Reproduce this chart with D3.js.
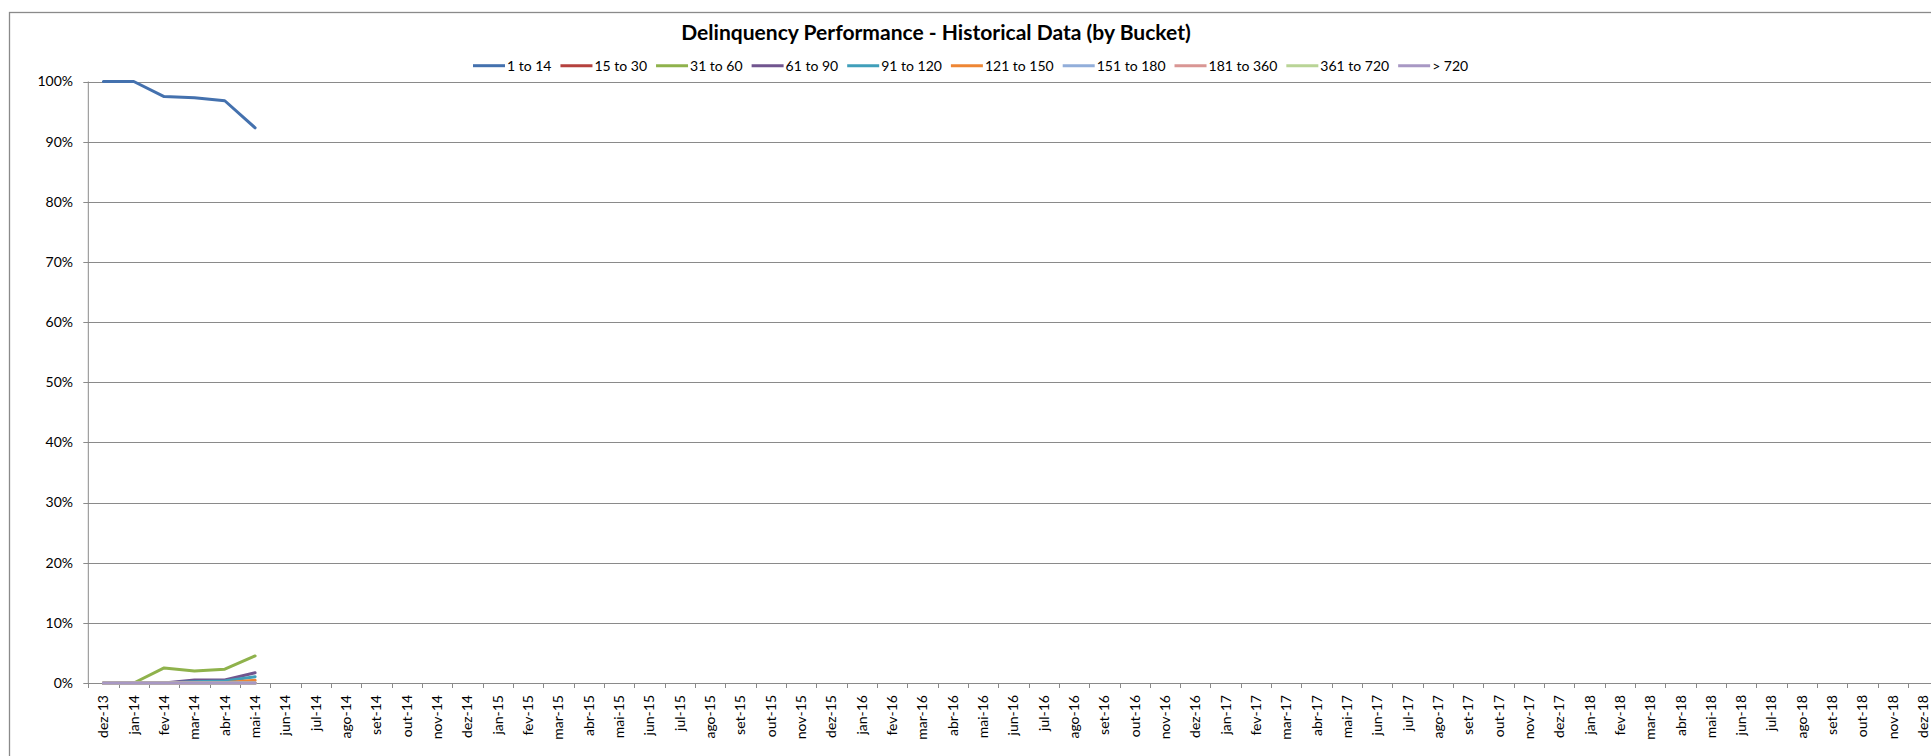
<!DOCTYPE html>
<html>
<head>
<meta charset="utf-8">
<script src="https://cdn.jsdelivr.net/npm/d3@7"></script>
<style>
  body { margin: 0; background: #fff; overflow: hidden; }
  svg { display: block; font-family: Lato, "Open Sans", sans-serif; }
</style>
</head>
<body>
<svg id="chart" width="1931" height="756"></svg>
<script>
// --- DATA ---
const months = [
  "dez-13",
  "jan-14", "fev-14", "mar-14", "abr-14", "mai-14", "jun-14", "jul-14", "ago-14", "set-14", "out-14", "nov-14", "dez-14",
  "jan-15", "fev-15", "mar-15", "abr-15", "mai-15", "jun-15", "jul-15", "ago-15", "set-15", "out-15", "nov-15", "dez-15",
  "jan-16", "fev-16", "mar-16", "abr-16", "mai-16", "jun-16", "jul-16", "ago-16", "set-16", "out-16", "nov-16", "dez-16",
  "jan-17", "fev-17", "mar-17", "abr-17", "mai-17", "jun-17", "jul-17", "ago-17", "set-17", "out-17", "nov-17", "dez-17",
  "jan-18", "fev-18", "mar-18", "abr-18", "mai-18", "jun-18", "jul-18", "ago-18", "set-18", "out-18", "nov-18", "dez-18"
];

const buckets = ["1 to 14", "15 to 30", "31 to 60", "61 to 90", "91 to 120",
                 "121 to 150", "151 to 180", "181 to 360", "361 to 720", "> 720"];
const colors = ["#4471AE", "#B5413E", "#8FB24C", "#71558F", "#409FBA",
                "#EE8634", "#92AEDA", "#D99694", "#B9D496", "#A898C4"];

// percentages, dez-13 .. mai-14 (later months have no data yet)
const b1to14    = [100, 100, 97.5, 97.3, 96.8, 92.3];
const b15to30   = [0, 0, 0, 0, 0, 0];
const b31to60   = [0, 0, 2.5, 2.0, 2.3, 4.5];
const b61to90   = [0, 0, 0, 0.5, 0.5, 1.7];
const b91to120  = [0, 0, 0, 0.2, 0.35, 1.05];
const b121to150 = [0, 0, 0, 0, 0.05, 0.45];
const b151to180 = [0, 0, 0, 0, 0, 0];
const b181to360 = [0, 0, 0, 0, 0, 0];
const b361to720 = [0, 0, 0, 0, 0, 0];
const bOver720  = [0, 0, 0, 0, 0, 0];

const yTicks = [0, 0.1, 0.2, 0.3, 0.4, 0.5, 0.6, 0.7, 0.8, 0.9, 1];

const seriesValues = [b1to14, b15to30, b31to60, b61to90, b91to120,
                      b121to150, b151to180, b181to360, b361to720, bOver720];

// --- CHART SETUP ---
const svg = d3.select("#chart");
const gridColor = "#8a8a8a";

const plot = {left: 88.3, right: 1938.4, top: 81.5, bottom: 683};

// chart frame (runs off the right and bottom edges like the original)
svg.append("rect")
  .attr("x", 9.5).attr("y", 12.5)
  .attr("width", 2100).attr("height", 900)
  .attr("fill", "#fff")
  .attr("stroke", gridColor).attr("stroke-width", 1.3);

const x = d3.scaleBand().domain(months).range([plot.left, plot.right]);
const y = d3.scaleLinear().domain([0, 1]).range([plot.bottom, plot.top]);

// gridlines + y ticks
svg.append("g")
  .selectAll("line")
  .data(yTicks)
  .join("line")
  .attr("x1", plot.left - 5).attr("x2", plot.right)
  .attr("y1", d => Math.round(y(d)) + 0.5).attr("y2", d => Math.round(y(d)) + 0.5)
  .attr("stroke", gridColor).attr("stroke-width", 1);

svg.append("g")
  .selectAll("text")
  .data(yTicks)
  .join("text")
  .attr("x", 73)
  .attr("y", d => y(d))
  .attr("dy", "0.35em")
  .attr("text-anchor", "end")
  .attr("font-size", 14)
  .attr("fill", "#000")
  .text(d3.format(".0%"));

// y axis line
svg.append("line")
  .attr("x1", plot.left).attr("x2", plot.left)
  .attr("y1", plot.top).attr("y2", plot.bottom)
  .attr("stroke", gridColor);

// x axis: ticks sit between categories, labels at category centres
const xTickPos = months.map(m => x(m)).concat([plot.right]);
svg.append("g")
  .selectAll("line")
  .data(xTickPos)
  .join("line")
  .attr("x1", d => Math.round(d) + 0.5).attr("x2", d => Math.round(d) + 0.5)
  .attr("y1", plot.bottom).attr("y2", plot.bottom + 5)
  .attr("stroke", gridColor);

const xAxis = svg.append("g")
  .attr("transform", `translate(0,${plot.bottom})`)
  .call(d3.axisBottom(x).tickSize(0));
xAxis.select(".domain").remove();
xAxis.selectAll("text")
  .attr("transform", "rotate(-90)")
  .attr("x", -12)
  .attr("y", 0)
  .attr("dy", "0.35em")
  .style("text-anchor", "end")
  .attr("font-size", 14)
  .attr("font-family", "Lato, 'Open Sans', sans-serif")
  .attr("fill", "#000");

// --- LINES ---
const line = d3.line()
  .x((d, i) => x(months[i]) + x.bandwidth() / 2)
  .y(d => y(d / 100));

svg.append("g")
  .selectAll("path")
  .data(seriesValues)
  .join("path")
  .attr("d", line)
  .attr("fill", "none")
  .attr("stroke", (d, i) => colors[i])
  .attr("stroke-width", 3)
  .attr("stroke-linejoin", "round")
  .attr("stroke-linecap", "round");

// --- TITLE ---
const title = svg.append("text")
  .attr("x", 936)
  .attr("y", 40)
  .attr("text-anchor", "middle")
  .attr("font-weight", "bold")
  .attr("font-size", 19)
  .attr("fill", "#000")
  .text("Delinquency Performance - Historical Data (by Bucket)");
// fit the title to the width it has in the original
const tw = title.node().getComputedTextLength();
title.attr("font-size", 19 * 510 / tw);

// --- LEGEND ---
const legend = svg.append("g");
let lx = 473;
const ly = 65.7;
buckets.forEach((b, i) => {
  legend.append("line")
    .attr("x1", lx).attr("x2", lx + 32)
    .attr("y1", ly).attr("y2", ly)
    .attr("stroke", colors[i]).attr("stroke-width", 3);
  const t = legend.append("text")
    .attr("x", lx + 34)
    .attr("y", ly)
    .attr("dy", "0.35em")
    .attr("font-size", 14)
    .attr("fill", "#000")
    .text(b);
  lx += 34 + t.node().getComputedTextLength() + 9;
});
</script>
</body>
</html>
